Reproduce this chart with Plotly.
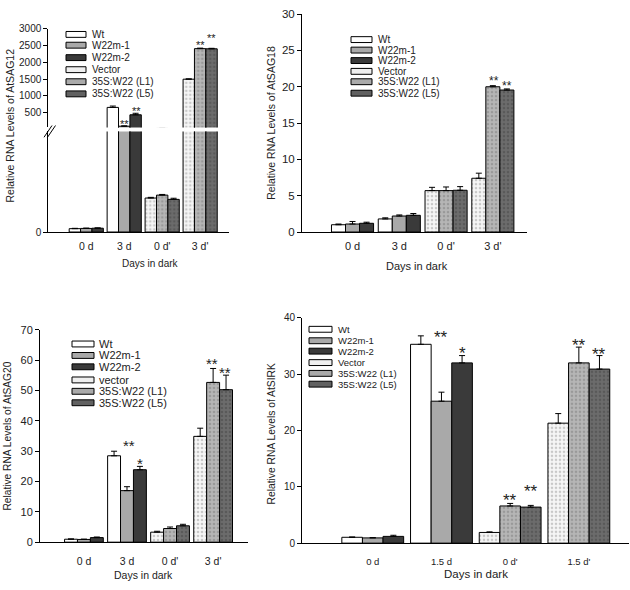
import plotly.graph_objects as go

W, H = 630, 590
FONT = "Liberation Sans, Arial, sans-serif"
INK = "#222222"


def px(x):
    return x / W


def py(y):
    return 1 - y / H


# ---------------- data ----------------
series = ['Wt', 'W22m-1', 'W22m-2', 'Vector', '35S:W22 (L1)', '35S:W22 (L5)']
series_sag20 = ['Wt', 'W22m-1', 'W22m-2', 'vector', '35S:W22 (L1)', '35S:W22 (L5)']

days = ['0 d', '3 d', "0 d'", "3 d'"]
days_sirk = ['0 d', '1.5 d', "0 d'", "1.5 d'"]

# AtSAG12 (broken axis)
sag12_vals = [[3.0, 660], [3.2, 100], [3.4, 440], [30.4, 1500], [33.0, 2410], [29.2, 2405]]
sag12_errs = [[0.3, 40], [0.3, 10], [0.3, 45], [0.6, 10], [0.6, 15], [1.0, 15]]

# AtSAG18
sag18_vals = [[1.0, 1.8], [1.1, 2.2], [1.2, 2.3], [5.7, 7.4], [5.7, 20.0], [5.75, 19.55]]
sag18_errs = [[0.1, 0.15], [0.35, 0.15], [0.15, 0.25], [0.45, 0.7], [0.5, 0.15], [0.5, 0.15]]

# AtSAG20
sag20_vals = [[0.97, 28.5], [0.9, 17.0], [1.5, 23.9], [3.3, 34.9], [4.5, 52.7], [5.4, 50.3]]
sag20_errs = [[0.1, 1.5], [0.1, 1.3], [0.2, 1.1], [0.3, 2.7], [0.5, 4.6], [0.5, 4.8]]

# AtSIRK
sirk_vals = [[1.04, 35.3], [0.93, 25.2], [1.2, 32.0], [1.9, 21.3], [6.6, 32.0], [6.4, 30.9]]
sirk_errs = [[0.05, 1.5], [0.05, 1.6], [0.2, 1.3], [0.1, 1.7], [0.45, 2.8], [0.3, 2.4]]

# significance marks: (text, x in category units, y in data units)
sag12_stars = [('**', 1.0, 237, 'y2'), ('**', 1.32, 637, 'y2'),
               ('**', 3.0, 2587, 'y2'), ('**', 3.3, 2792, 'y2')]
sag18_stars = [('**', 3.02, 21.1), ('**', 3.3, 20.4)]
sag20_stars = [('**', 1.05, 33.0), ('*', 1.3, 26.9), ('**', 2.98, 59.9), ('**', 3.28, 57.0)]
sirk_stars = [('**', 1.0, 37.1), ('*', 1.3, 34.3), ('**', 2.0, 8.2), ('**', 2.3, 9.8),
              ('**', 3.0, 35.7), ('**', 3.3, 34.1)]

# ---------------- styles ----------------
BAR_W = 0.30
OFFSETS = [-0.45, -0.15, 0.15]
fills = [
    dict(color='white'),
    dict(color='#a9a9a9'),
    dict(color='#3a3a3a'),
    dict(color='#f2f2f2', pattern=dict(shape='.', size=4, solidity=0.35, fgcolor='#9a9a9a', bgcolor='#f6f6f6')),
    dict(color='#b0b0b0', pattern=dict(shape='.', size=4, solidity=0.35, fgcolor='#7c7c7c', bgcolor='#b6b6b6')),
    dict(color='#666666', pattern=dict(shape='.', size=4, solidity=0.35, fgcolor='#454545', bgcolor='#6c6c6c')),
]
swatch_colors = ['white', '#a9a9a9', '#3a3a3a', '#efefef', '#aaaaaa', '#616161']

fig = go.Figure()


def add_bars(cats, vals, errs, xa, ya):
    for i in range(6):
        slot = i % 3
        xs = cats[:2] if i < 3 else cats[2:]
        marker = dict(line=dict(color='black', width=1))
        marker.update(fills[i])
        fig.add_trace(go.Bar(
            x=xs, y=vals[i], xaxis=xa, yaxis=ya,
            width=BAR_W, offset=OFFSETS[slot],
            marker=marker, showlegend=False,
            error_y=dict(type='data', array=errs[i], arrayminus=[0, 0], symmetric=False,
                         color='black', thickness=1, width=3),
        ))


add_bars(days, sag12_vals, sag12_errs, 'x', 'y')
add_bars(days, sag12_vals, sag12_errs, 'x', 'y2')
add_bars(days, sag18_vals, sag18_errs, 'x2', 'y3')
add_bars(days, sag20_vals, sag20_errs, 'x3', 'y4')
add_bars(days_sirk, sirk_vals, sirk_errs, 'x4', 'y5')

shapes = []
annotations = []


def legend(names, x0, x1, xt, rows, size, h=6):
    for i, name in enumerate(names):
        yc = rows[i]
        shapes.append(dict(type='rect', xref='paper', yref='paper',
                           x0=px(x0), x1=px(x1), y0=py(yc + h / 2), y1=py(yc - h / 2),
                           fillcolor=swatch_colors[i], line=dict(color='black', width=1)))
        annotations.append(dict(text=name, xref='paper', yref='paper', x=px(xt), y=py(yc),
                                xanchor='left', yanchor='middle', showarrow=False,
                                font=dict(size=size, color=INK, family=FONT)))


legend(series, 66, 86, 90, [29, 40, 52.7, 65, 77.3, 89.7], 10)
legend(series, 351, 372, 376, [34.3, 45, 55.7, 66.7, 77.3, 89], 10)
legend(series_sag20, 72, 94, 97, [345, 356.7, 368.3, 381.7, 393.3, 405], 11)
legend(series, 309, 332, 336, [330, 341.7, 352.3, 364, 375, 386], 9.5)


def stars(marks, xa, ya, size):
    for m in marks:
        yr = m[3] if len(m) > 3 else ya
        annotations.append(dict(text=m[0], xref=xa, yref=yr, x=m[1], y=m[2],
                                xanchor='center', yanchor='middle', showarrow=False,
                                yshift=-size * 0.22,
                                font=dict(size=size, color=INK, family=FONT)))


stars(sag12_stars, 'x', 'y2', 11)
stars(sag18_stars, 'x2', 'y3', 12)
stars(sag20_stars, 'x3', 'y4', 15)
stars(sirk_stars, 'x4', 'y5', 17)


def label(text, x, y, size, angle=0):
    annotations.append(dict(text=text, xref='paper', yref='paper', x=px(x), y=py(y),
                            xanchor='center', yanchor='middle', showarrow=False, textangle=angle,
                            font=dict(size=size, color=INK, family=FONT)))


label('Relative RNA Levels of AtSAG12', 10, 122, 10.5, -90)
label('Relative RNA Levels of AtSAG18', 270.7, 119.5, 10.5, -90)
label('Relative RNA Levels of AtSAG20', 7.5, 439, 10.2, -90)
label('Relative RNA Levels of AtSIRK', 271.7, 436.7, 10.3, -90)
label('Days in dark', 150, 263.3, 10)
label('Days in dark', 417, 265, 11)
label('Days in dark', 143.8, 580.7, 10.5)
label('Days in dark', 476.3, 580, 11.5)

# axis break marks
for dx in (0, 3.5):
    shapes.append(dict(type='line', xref='paper', yref='paper',
                       x0=px(44 + dx), y0=py(134), x1=px(52 + dx), y1=py(122),
                       line=dict(color='black', width=1)))

axis_common = dict(showline=True, linecolor='black', linewidth=1, showgrid=False,
                   zeroline=False, color=INK)


def xaxis(dom, cats, rng, size, anchor, standoff):
    return dict(axis_common, domain=[px(dom[0]), px(dom[1])], type='category',
                categoryorder='array', categoryarray=cats, range=rng, anchor=anchor,
                ticks='', ticklabelstandoff=standoff,
                tickfont=dict(size=size, family=FONT, color=INK))


def yaxis(dom, rng, tickvals, size, anchor):
    return dict(axis_common, domain=[py(dom[0]), py(dom[1])], range=rng, anchor=anchor,
                tickvals=tickvals, ticks='outside', ticklen=4, tickcolor='black',
                tickfont=dict(size=size, family=FONT, color=INK))


fig.update_layout(
    width=W, height=H,
    margin=dict(l=0, r=0, t=0, b=0),
    paper_bgcolor='white', plot_bgcolor='white',
    barmode='overlay',
    showlegend=False,
    font=dict(family=FONT, color=INK),
    xaxis=xaxis((48.3, 229), days, [-1.0, 3.76], 10.5, 'y', 4),
    yaxis=yaxis((230.7, 128), [0, 90], [0], 10, 'x'),
    yaxis2=yaxis((124, 23.3), [62, 3000], [500, 1000, 1500, 2000, 2500, 3000], 10, 'x'),
    xaxis2=xaxis((302, 527), days, [-1.08, 3.73], 11, 'y3', 4),
    yaxis3=yaxis((230.7, 8.3), [0, 30], [0, 5, 10, 15, 20, 25, 30], 11.5, 'x2'),
    xaxis3=xaxis((40, 248), days, [-1.02, 3.81], 10.5, 'y4', 9),
    yaxis4=yaxis((547.3, 330.7), [0, 70], [0, 10, 20, 30, 40, 50, 60, 70], 11, 'x3'),
    xaxis4=xaxis((302, 629), days_sirk, [-1.03, 3.73], 9.5, 'y5', 9),
    yaxis5=yaxis((548.3, 318.3), [0, 40], [0, 10, 20, 30, 40], 10, 'x4'),
    shapes=shapes,
    annotations=annotations,
)

# the page body has a default 8px margin; remove it so the figure fills the window
fig.write_html("out.html", config={'displayModeBar': False},
               post_script="document.body.style.margin='0';")
